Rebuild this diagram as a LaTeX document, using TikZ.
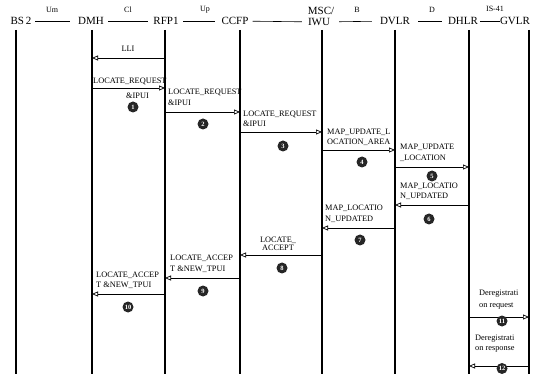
\documentclass[tikz,border=0pt]{standalone}
\usepackage{fontspec}
\setmainfont{Liberation Serif}
\usetikzlibrary{arrows.meta}
\begin{document}
\begin{tikzpicture}[x=1pt,y=-1pt,
  life/.style={line width=1.2pt},
  hl/.style={line width=0.6pt},
  msg/.style={line width=0.9pt,-{Triangle[open,length=6pt,width=5pt,line width=0.7pt]}},
  hdr/.style={font=\fontsize{11}{12}\selectfont, inner sep=0pt},
  ifc/.style={font=\fontsize{8}{8}\selectfont, inner sep=0pt},
  lab/.style={font=\fontsize{8.3}{10.5}\selectfont, inner sep=0pt, align=left, anchor=west},
  num/.style={circle, fill=black!85, text=white, inner sep=0pt, minimum size=11pt, font=\fontsize{6.5}{6.5}\selectfont\bfseries},
]
\useasboundingbox (0,0) rectangle (541,374);
\clip (0,0) rectangle (541,374);

% header
\node[hdr] (bs) at (21,21) {BS\,2};
\node[hdr] (dmh) at (91,21) {DMH};
\node[hdr] (rfp) at (166,21) {RFP1};
\node[hdr] (ccfp) at (235,21) {CCFP};
\node[hdr] (msca) at (321,11) {MSC/};
\node[hdr] (iwu) at (319,22) {IWU};
\node[hdr] (dvlr) at (395,21) {DVLR};
\node[hdr] (dhlr) at (463,21) {DHLR};
\node[hdr] (gvlr) at (515,21) {GVLR};

\draw[hl, shorten <=3.5pt, shorten >=8pt] (bs) -- (dmh);
\draw[hl, shorten <=4pt, shorten >=5.5pt] (dmh) -- (rfp);
\draw[hl, shorten <=4.5pt, shorten >=6pt] (rfp) -- (ccfp);
\draw[hl, shorten <=4pt, shorten >=6pt] (ccfp) -- (iwu);
\draw[hl, shorten <=9pt, shorten >=8pt] (iwu) -- (dvlr);
\draw[hl, shorten <=8pt, shorten >=6pt] (dvlr) -- (dhlr);
\draw[hl, shorten <=2pt, shorten >=0pt] (dhlr) -- (gvlr);

\node[ifc] (um) at (52,10) {Um};
\node[ifc] (cl) at (128,10) {Cl};
\node[ifc] (up) at (205,10) {Up};
\node[ifc] (b) at (357,10) {B};
\node[ifc] (d) at (432,10) {D};
\node[ifc] (is) at (495,9) {IS-41};

% lifelines
\coordinate (tBS) at (16,30);   \coordinate (eBS) at (16,374);
\coordinate (tDMH) at (92,30);  \coordinate (eDMH) at (92,374);
\coordinate (tRFP) at (165,30); \coordinate (eRFP) at (165,374);
\coordinate (tCC) at (240,30);  \coordinate (eCC) at (240,374);
\coordinate (tMSC) at (322,30); \coordinate (eMSC) at (322,374);
\coordinate (tDV) at (395,30);  \coordinate (eDV) at (395,374);
\coordinate (tDH) at (469,30);  \coordinate (eDH) at (469,374);
\coordinate (tGV) at (529,30);  \coordinate (eGV) at (529,374);
\foreach \a/\b in {tBS/eBS,tDMH/eDMH,tRFP/eRFP,tCC/eCC,tMSC/eMSC,tDV/eDV,tDH/eDH,tGV/eGV}
  \draw[life] (\a) -- (\b);

% messages
\draw[msg] (tRFP |- 0,58) -- (tDMH |- 0,58);
\node[lab, anchor=center] (l0) at (128,49) {LLI};

\draw[msg] (tDMH |- 0,88) -- (tRFP |- 0,88);
\node[lab] (l1a) at (93,81) {LOCATE\_REQUEST};
\node[lab] (l1b) at (126,96) {\&IPUI};
\node[num] (n1) at (133,107) {1};

\draw[msg] (tRFP |- 0,112) -- (tCC |- 0,112);
\node[lab] (l2) at (168,97.5) {LOCATE\_REQUEST\\\&IPUI};
\node[num] (n2) at (203,124) {2};

\draw[msg] (tCC |- 0,132) -- (tMSC |- 0,132);
\node[lab] (l3) at (243,119) {LOCATE\_REQUEST\\\&IPUI};
\node[num] (n3) at (283,146) {3};

\draw[msg] (tMSC |- 0,150) -- (tDV |- 0,150);
\node[lab] (l4) at (327,137.5) {MAP\_UPDATE\_L\\OCATION\_AREA};
\node[num] (n4) at (362,162) {4};

\draw[msg] (tDV |- 0,167) -- (tDH |- 0,167);
\node[lab] (l5) at (400,153) {MAP\_UPDATE\\\_LOCATION};
\node[num] (n5) at (432,176) {5};

\draw[msg] (tDH |- 0,205) -- (tDV |- 0,205);
\node[lab] (l6) at (400,191.5) {MAP\_LOCATIO\\N\_UPDATED};
\node[num] (n6) at (429,219) {6};

\draw[msg] (tDV |- 0,228) -- (tMSC |- 0,228);
\node[lab] (l7) at (325,214) {MAP\_LOCATIO\\N\_UPDATED};
\node[num] (n7) at (360,240) {7};

\draw[msg] (tMSC |- 0,255) -- (tCC |- 0,255);
\node[lab, anchor=center, align=center, font=\fontsize{8.3}{8.5}\selectfont] (l8) at (278,244) {LOCATE\_\\ACCEPT};
\node[num] (n8) at (282,268) {8};

\draw[msg] (tCC |- 0,278) -- (tRFP |- 0,278);
\node[lab] (l9) at (170,264) {LOCATE\_ACCEP\\T \&NEW\_TPUI};
\node[num] (n9) at (203,291) {9};

\draw[msg] (tRFP |- 0,294) -- (tDMH |- 0,294);
\node[lab] (l10) at (96,280.5) {LOCATE\_ACCEP\\T \&NEW\_TPUI};
\node[num] (n10) at (128,307) {10};

\draw[msg] (tDH |- 0,317) -- (tGV |- 0,317);
\node[lab, font=\fontsize{8.3}{12}\selectfont] (l11) at (479,299.5) {Deregistrati\\on request};
\node[num] (n11) at (502,321) {11};

\draw[msg] (tGV |- 0,366) -- (tDH |- 0,366);
\node[lab, font=\fontsize{8.3}{10}\selectfont] (l12) at (475,344) {Deregistrati\\on response};
\node[num] (n12) at (502,368.5) {12};
\end{tikzpicture}
\end{document}
